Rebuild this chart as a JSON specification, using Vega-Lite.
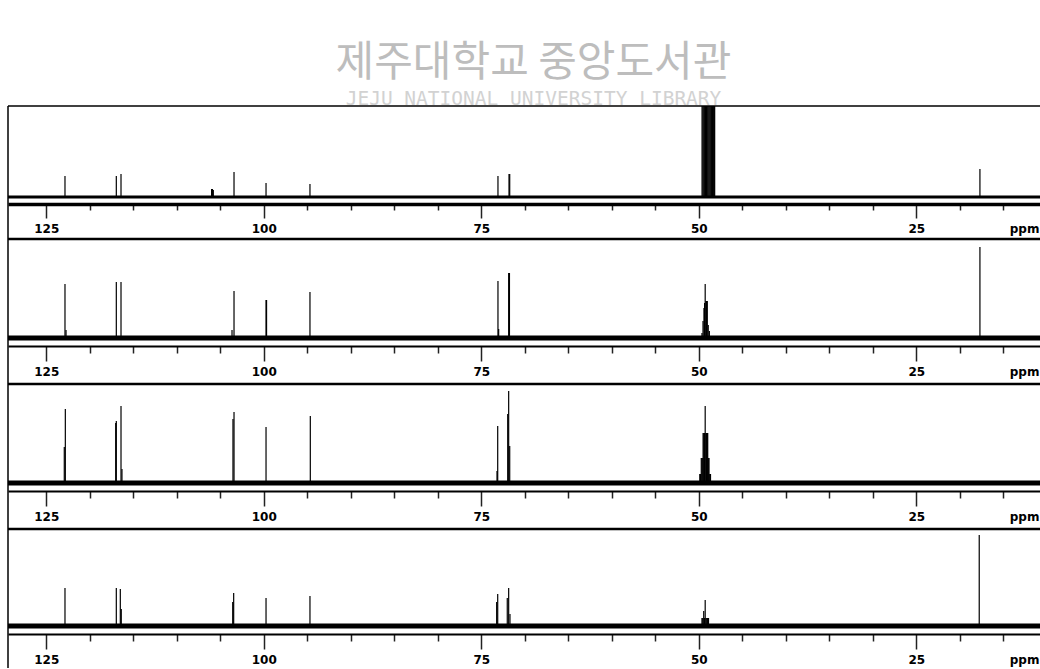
{
  "$schema": "https://vega.github.io/schema/vega-lite/v6.json",
  "padding": {"left": 6, "top": 41, "right": 0, "bottom": 0},
  "background": "white",
  "config": {"view": {"stroke": null}},
  "title": {
    "text": "제주대학교 중앙도서관",
    "subtitle": "JEJU NATIONAL UNIVERSITY  LIBRARY",
    "anchor": "middle",
    "dx": 9,
    "font": "Noto Sans CJK KR",
    "fontSize": 42,
    "fontWeight": "normal",
    "color": "#bdbdbd",
    "subtitleFont": "DejaVu Sans Mono",
    "subtitleFontSize": 19.5,
    "subtitleColor": "#d2d2d2",
    "subtitlePadding": 5,
    "offset": -4
  },
  "spacing": 0,
  "bounds": "flush",
  "datasets": {
    "peaks": [
      {"panel": 1, "ppm": 122.85, "h": 21},
      {"panel": 1, "ppm": 116.95, "h": 21},
      {"panel": 1, "ppm": 116.41, "h": 23},
      {"panel": 1, "ppm": 106.0, "h": 8},
      {"panel": 1, "ppm": 105.9, "h": 8},
      {"panel": 1, "ppm": 105.8, "h": 7},
      {"panel": 1, "ppm": 103.42, "h": 25},
      {"panel": 1, "ppm": 99.74, "h": 14},
      {"panel": 1, "ppm": 94.69, "h": 13},
      {"panel": 1, "ppm": 73.08, "h": 21},
      {"panel": 1, "ppm": 71.81, "h": 23},
      {"panel": 1, "ppm": 71.73, "h": 23},
      {"panel": 1, "ppm": 49.62, "h": 150},
      {"panel": 1, "ppm": 49.52, "h": 150},
      {"panel": 1, "ppm": 49.42, "h": 150},
      {"panel": 1, "ppm": 49.32, "h": 150},
      {"panel": 1, "ppm": 49.22, "h": 150},
      {"panel": 1, "ppm": 49.12, "h": 150},
      {"panel": 1, "ppm": 49.02, "h": 150},
      {"panel": 1, "ppm": 48.92, "h": 150},
      {"panel": 1, "ppm": 48.82, "h": 150},
      {"panel": 1, "ppm": 48.72, "h": 150},
      {"panel": 1, "ppm": 48.62, "h": 150},
      {"panel": 1, "ppm": 48.52, "h": 150},
      {"panel": 1, "ppm": 48.42, "h": 150},
      {"panel": 1, "ppm": 48.32, "h": 150},
      {"panel": 1, "ppm": 48.22, "h": 150},
      {"panel": 1, "ppm": 48.17, "h": 150},
      {"panel": 1, "ppm": 17.68, "h": 28},
      {"panel": 2, "ppm": 122.85, "h": 54},
      {"panel": 2, "ppm": 122.73, "h": 8},
      {"panel": 2, "ppm": 116.95, "h": 56},
      {"panel": 2, "ppm": 116.41, "h": 56},
      {"panel": 2, "ppm": 103.65, "h": 8},
      {"panel": 2, "ppm": 103.42, "h": 47},
      {"panel": 2, "ppm": 99.74, "h": 38},
      {"panel": 2, "ppm": 99.68, "h": 38},
      {"panel": 2, "ppm": 94.69, "h": 46},
      {"panel": 2, "ppm": 73.08, "h": 57},
      {"panel": 2, "ppm": 73.0, "h": 9},
      {"panel": 2, "ppm": 71.85, "h": 65},
      {"panel": 2, "ppm": 71.76, "h": 65},
      {"panel": 2, "ppm": 49.63, "h": 5},
      {"panel": 2, "ppm": 49.51, "h": 17},
      {"panel": 2, "ppm": 49.4, "h": 30},
      {"panel": 2, "ppm": 49.33, "h": 35},
      {"panel": 2, "ppm": 49.26, "h": 54},
      {"panel": 2, "ppm": 49.17, "h": 37},
      {"panel": 2, "ppm": 49.1, "h": 37},
      {"panel": 2, "ppm": 49.02, "h": 37},
      {"panel": 2, "ppm": 48.91, "h": 13},
      {"panel": 2, "ppm": 48.78, "h": 7},
      {"panel": 2, "ppm": 17.68, "h": 91},
      {"panel": 3, "ppm": 122.93, "h": 36},
      {"panel": 3, "ppm": 122.81, "h": 74},
      {"panel": 3, "ppm": 117.02, "h": 60},
      {"panel": 3, "ppm": 116.95, "h": 62},
      {"panel": 3, "ppm": 116.41, "h": 77},
      {"panel": 3, "ppm": 116.3, "h": 14},
      {"panel": 3, "ppm": 103.54, "h": 64},
      {"panel": 3, "ppm": 103.42, "h": 71},
      {"panel": 3, "ppm": 99.74, "h": 56},
      {"panel": 3, "ppm": 94.65, "h": 67},
      {"panel": 3, "ppm": 73.19, "h": 12},
      {"panel": 3, "ppm": 73.11, "h": 57},
      {"panel": 3, "ppm": 71.96, "h": 69},
      {"panel": 3, "ppm": 71.85, "h": 92},
      {"panel": 3, "ppm": 71.73, "h": 37},
      {"panel": 3, "ppm": 49.88, "h": 9},
      {"panel": 3, "ppm": 49.8, "h": 9},
      {"panel": 3, "ppm": 49.71, "h": 25},
      {"panel": 3, "ppm": 49.62, "h": 25},
      {"panel": 3, "ppm": 49.53, "h": 25},
      {"panel": 3, "ppm": 49.5, "h": 50},
      {"panel": 3, "ppm": 49.42, "h": 50},
      {"panel": 3, "ppm": 49.34, "h": 50},
      {"panel": 3, "ppm": 49.26, "h": 77},
      {"panel": 3, "ppm": 49.18, "h": 50},
      {"panel": 3, "ppm": 49.1, "h": 50},
      {"panel": 3, "ppm": 49.02, "h": 50},
      {"panel": 3, "ppm": 48.97, "h": 50},
      {"panel": 3, "ppm": 48.9, "h": 25},
      {"panel": 3, "ppm": 48.82, "h": 25},
      {"panel": 3, "ppm": 48.74, "h": 9},
      {"panel": 3, "ppm": 48.65, "h": 9},
      {"panel": 4, "ppm": 122.85, "h": 38},
      {"panel": 4, "ppm": 116.95, "h": 38},
      {"panel": 4, "ppm": 116.49, "h": 37},
      {"panel": 4, "ppm": 116.38, "h": 17},
      {"panel": 4, "ppm": 103.57, "h": 24},
      {"panel": 4, "ppm": 103.46, "h": 33},
      {"panel": 4, "ppm": 99.74, "h": 28},
      {"panel": 4, "ppm": 94.69, "h": 30},
      {"panel": 4, "ppm": 73.23, "h": 24},
      {"panel": 4, "ppm": 73.11, "h": 32},
      {"panel": 4, "ppm": 72.01, "h": 28},
      {"panel": 4, "ppm": 71.85, "h": 38},
      {"panel": 4, "ppm": 71.7, "h": 12},
      {"panel": 4, "ppm": 49.63, "h": 8},
      {"panel": 4, "ppm": 49.54, "h": 8},
      {"panel": 4, "ppm": 49.43, "h": 15},
      {"panel": 4, "ppm": 49.35, "h": 8},
      {"panel": 4, "ppm": 49.26, "h": 26},
      {"panel": 4, "ppm": 49.17, "h": 8},
      {"panel": 4, "ppm": 49.08, "h": 8},
      {"panel": 4, "ppm": 48.98, "h": 8},
      {"panel": 4, "ppm": 48.88, "h": 8},
      {"panel": 4, "ppm": 17.76, "h": 91}
    ]
  },
  "vconcat": [
    {
      "width": 1033, "height": 133,
      "layer": [
        {
          "data": {"name": "peaks"},
          "transform": [{"filter": "datum.panel === 1"}],
          "mark": {"type": "rule", "clip": true, "color": "black", "strokeWidth": 1.2},
          "encoding": {
            "x": {"field": "ppm", "type": "quantitative",
              "scale": {"domain": [10.66, 129.4], "reverse": true, "nice": false, "zero": false},
              "axis": {"title": null, "offset": -35, "values": [125,120,115,110,105,100,95,90,85,80,75,70,65,60,55,50,45,40,35,30,25,20,15,12.6],
                "domainColor": "black", "domainWidth": 3.5, "tickColor": "#222", "tickWidth": 1.5,
                "tickSize": {"condition": {"test": "datum.value % 25 === 0 || datum.value === 12.6", "value": 14}, "value": 6},
                "tickOpacity": {"condition": {"test": "datum.value === 12.6", "value": 0}, "value": 1},
                "labelExpr": "datum.value === 12.6 ? 'ppm' : (datum.value % 25 === 0 ? datum.label : '')",
                "labelFont": "DejaVu Sans", "labelFontWeight": "bold", "labelFontSize": 12, "labelColor": "black",
                "labelPadding": 5, "labelOverlap": false, "labelFlush": false, "grid": false}},
            "y": {"field": "h", "type": "quantitative", "scale": {"domain": [-42, 91], "nice": false, "zero": false}, "axis": null},
            "y2": {"datum": 0}
          }
        },
        {
          "data": {"values": [{}]},
          "mark": {"type": "rect", "color": "black"},
          "encoding": {"x": {"datum": 129.4, "type": "quantitative"}, "x2": {"datum": 10.66}, "y": {"datum": -1.5, "type": "quantitative", "axis": null}, "y2": {"datum": 1.5}}
        },
        {
          "data": {"values": [{}]},
          "mark": {"type": "rule", "color": "black", "strokeWidth": 1.5},
          "encoding": {"y": {"datum": 91, "type": "quantitative", "axis": null}}
        },
        {
          "data": {"values": [{}]},
          "mark": {"type": "rule", "color": "black", "strokeWidth": 1.5},
          "encoding": {"x": {"datum": 129.4, "type": "quantitative"}}
        }
      ]
    },
    {
      "width": 1033, "height": 145,
      "layer": [
        {
          "data": {"name": "peaks"},
          "transform": [{"filter": "datum.panel === 2"}],
          "mark": {"type": "rule", "clip": true, "color": "black", "strokeWidth": 1.2},
          "encoding": {
            "x": {"field": "ppm", "type": "quantitative",
              "scale": {"domain": [10.66, 129.4], "reverse": true, "nice": false, "zero": false},
              "axis": {"title": null, "offset": -38, "values": [125,120,115,110,105,100,95,90,85,80,75,70,65,60,55,50,45,40,35,30,25,20,15,12.6],
                "domainColor": "black", "domainWidth": 2, "tickColor": "#222", "tickWidth": 1.5,
                "tickSize": {"condition": {"test": "datum.value % 25 === 0 || datum.value === 12.6", "value": 15}, "value": 7},
                "tickOpacity": {"condition": {"test": "datum.value === 12.6", "value": 0}, "value": 1},
                "labelExpr": "datum.value === 12.6 ? 'ppm' : (datum.value % 25 === 0 ? datum.label : '')",
                "labelFont": "DejaVu Sans", "labelFontWeight": "bold", "labelFontSize": 12, "labelColor": "black",
                "labelPadding": 5, "labelOverlap": false, "labelFlush": false, "grid": false}},
            "y": {"field": "h", "type": "quantitative", "scale": {"domain": [-46, 99], "nice": false, "zero": false}, "axis": null},
            "y2": {"datum": 0}
          }
        },
        {
          "data": {"values": [{}]},
          "mark": {"type": "rect", "color": "black"},
          "encoding": {"x": {"datum": 129.4, "type": "quantitative"}, "x2": {"datum": 10.66}, "y": {"datum": -2.5, "type": "quantitative", "axis": null}, "y2": {"datum": 2.5}}
        },
        {
          "data": {"values": [{}]},
          "mark": {"type": "rule", "color": "black", "strokeWidth": 2.5},
          "encoding": {"y": {"datum": 99, "type": "quantitative", "axis": null}}
        },
        {
          "data": {"values": [{}]},
          "mark": {"type": "rule", "color": "black", "strokeWidth": 1.5},
          "encoding": {"x": {"datum": 129.4, "type": "quantitative"}}
        }
      ]
    },
    {
      "width": 1033, "height": 145,
      "layer": [
        {
          "data": {"name": "peaks"},
          "transform": [{"filter": "datum.panel === 3"}],
          "mark": {"type": "rule", "clip": true, "color": "black", "strokeWidth": 1.2},
          "encoding": {
            "x": {"field": "ppm", "type": "quantitative",
              "scale": {"domain": [10.66, 129.4], "reverse": true, "nice": false, "zero": false},
              "axis": {"title": null, "offset": -38, "values": [125,120,115,110,105,100,95,90,85,80,75,70,65,60,55,50,45,40,35,30,25,20,15,12.6],
                "domainColor": "black", "domainWidth": 2, "tickColor": "#222", "tickWidth": 1.5,
                "tickSize": {"condition": {"test": "datum.value % 25 === 0 || datum.value === 12.6", "value": 15}, "value": 7},
                "tickOpacity": {"condition": {"test": "datum.value === 12.6", "value": 0}, "value": 1},
                "labelExpr": "datum.value === 12.6 ? 'ppm' : (datum.value % 25 === 0 ? datum.label : '')",
                "labelFont": "DejaVu Sans", "labelFontWeight": "bold", "labelFontSize": 12, "labelColor": "black",
                "labelPadding": 5, "labelOverlap": false, "labelFlush": false, "grid": false}},
            "y": {"field": "h", "type": "quantitative", "scale": {"domain": [-46, 99], "nice": false, "zero": false}, "axis": null},
            "y2": {"datum": 0}
          }
        },
        {
          "data": {"values": [{}]},
          "mark": {"type": "rect", "color": "black"},
          "encoding": {"x": {"datum": 129.4, "type": "quantitative"}, "x2": {"datum": 10.66}, "y": {"datum": -2.5, "type": "quantitative", "axis": null}, "y2": {"datum": 2.5}}
        },
        {
          "data": {"values": [{}]},
          "mark": {"type": "rule", "color": "black", "strokeWidth": 2.5},
          "encoding": {"y": {"datum": 99, "type": "quantitative", "axis": null}}
        },
        {
          "data": {"values": [{}]},
          "mark": {"type": "rule", "color": "black", "strokeWidth": 1.5},
          "encoding": {"x": {"datum": 129.4, "type": "quantitative"}}
        }
      ]
    },
    {
      "width": 1033, "height": 139,
      "layer": [
        {
          "data": {"name": "peaks"},
          "transform": [{"filter": "datum.panel === 4"}],
          "mark": {"type": "rule", "clip": true, "color": "black", "strokeWidth": 1.2},
          "encoding": {
            "x": {"field": "ppm", "type": "quantitative",
              "scale": {"domain": [10.66, 129.4], "reverse": true, "nice": false, "zero": false},
              "axis": {"title": null, "offset": -34, "values": [125,120,115,110,105,100,95,90,85,80,75,70,65,60,55,50,45,40,35,30,25,20,15,12.6],
                "domainColor": "black", "domainWidth": 2, "tickColor": "#222", "tickWidth": 1.5,
                "tickSize": {"condition": {"test": "datum.value % 25 === 0 || datum.value === 12.6", "value": 15}, "value": 7},
                "tickOpacity": {"condition": {"test": "datum.value === 12.6", "value": 0}, "value": 1},
                "labelExpr": "datum.value === 12.6 ? 'ppm' : (datum.value % 25 === 0 ? datum.label : '')",
                "labelFont": "DejaVu Sans", "labelFontWeight": "bold", "labelFontSize": 12, "labelColor": "black",
                "labelPadding": 5, "labelOverlap": false, "labelFlush": false, "grid": false}},
            "y": {"field": "h", "type": "quantitative", "scale": {"domain": [-42, 97], "nice": false, "zero": false}, "axis": null},
            "y2": {"datum": 0}
          }
        },
        {
          "data": {"values": [{}]},
          "mark": {"type": "rect", "color": "black"},
          "encoding": {"x": {"datum": 129.4, "type": "quantitative"}, "x2": {"datum": 10.66}, "y": {"datum": -2.5, "type": "quantitative", "axis": null}, "y2": {"datum": 2.5}}
        },
        {
          "data": {"values": [{}]},
          "mark": {"type": "rule", "color": "black", "strokeWidth": 2.5},
          "encoding": {"y": {"datum": 97, "type": "quantitative", "axis": null}}
        },
        {
          "data": {"values": [{}]},
          "mark": {"type": "rule", "color": "black", "strokeWidth": 1.5},
          "encoding": {"x": {"datum": 129.4, "type": "quantitative"}}
        }
      ]
    }
  ]
}
